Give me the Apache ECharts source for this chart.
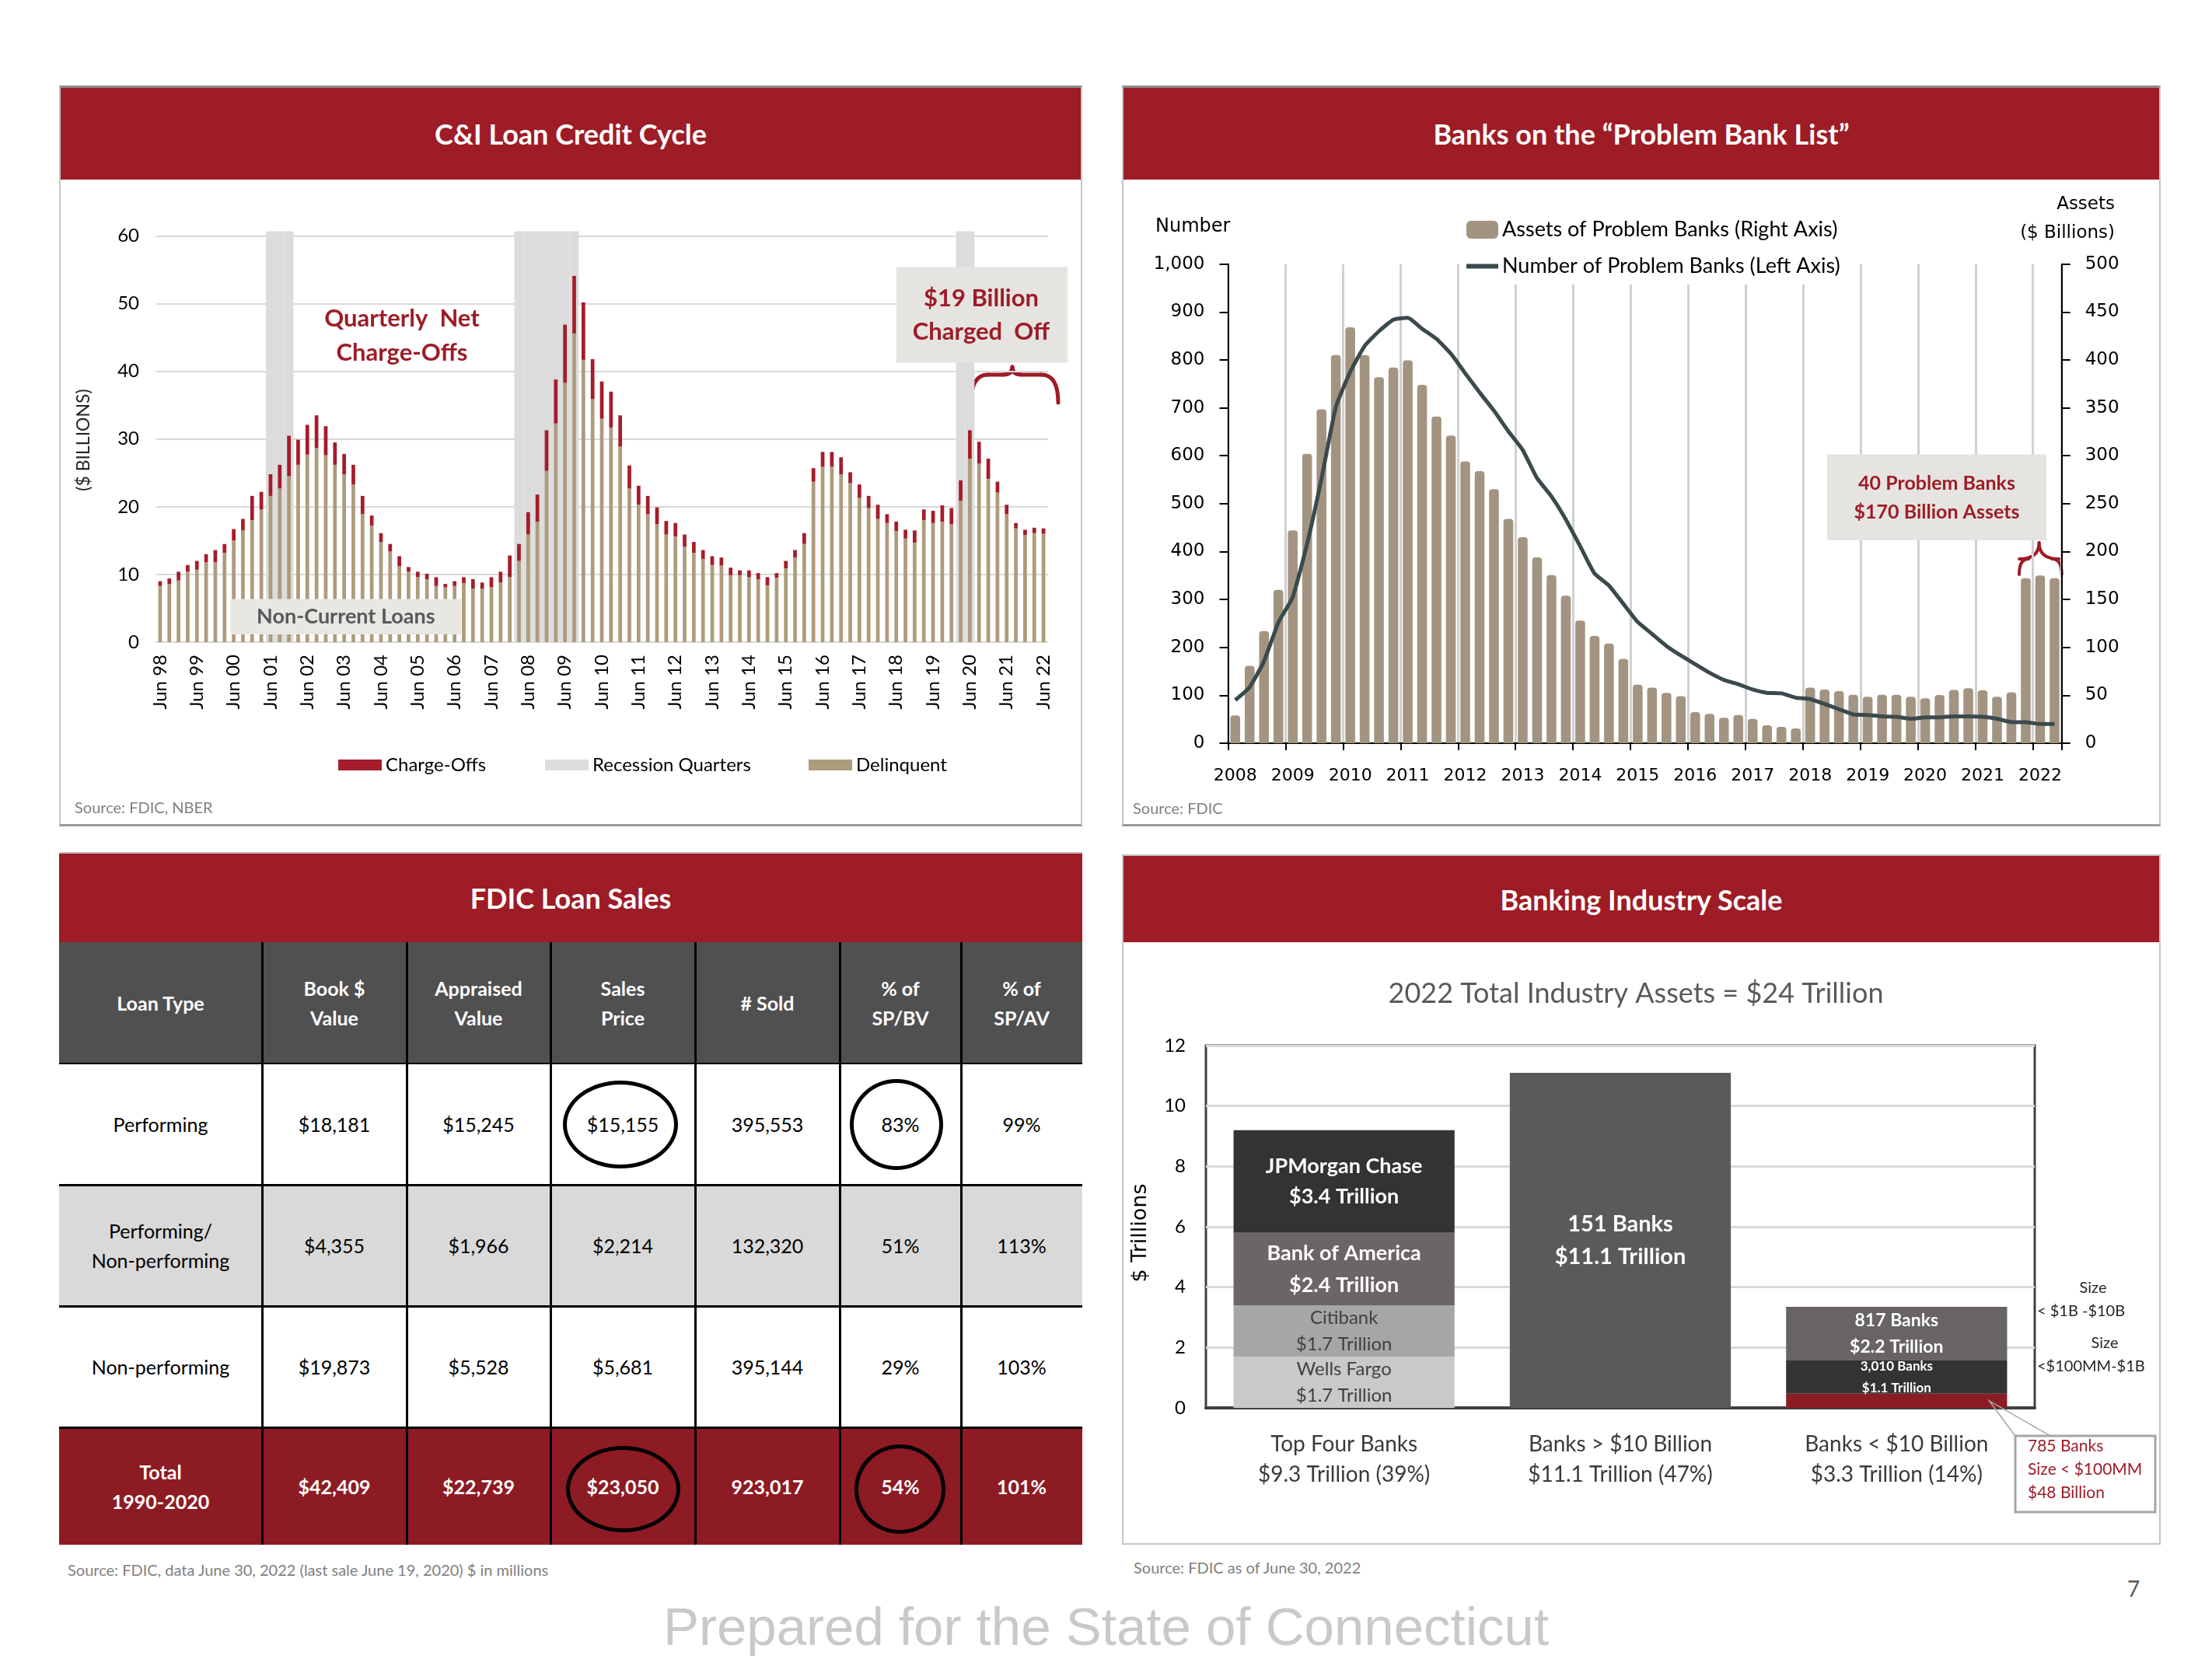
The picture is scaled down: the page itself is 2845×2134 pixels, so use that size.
<!DOCTYPE html>
<html>
<head>
<meta charset="utf-8">
<title>Banking Industry Overview</title>
<script src="https://cdn.jsdelivr.net/npm/echarts@6/dist/echarts.min.js"></script>
<style>
  html, body { margin:0; padding:0; background:#ffffff; }
  body { position:relative; width:2845px; height:2134px; overflow:hidden; font-family: Lato, "Noto Sans", sans-serif; }
  .abs { position:absolute; box-sizing:border-box; }
  .panel { border:2px solid #c4c4c4; }
  .hdr { background:#9d1c26; color:#ffffff; font-weight:700; font-size:36px; display:flex; align-items:center; justify-content:center; white-space:nowrap; }
  .src { color:#7f7f7f; font-size:20px; white-space:nowrap; line-height:24px; }
  .cell { display:flex; align-items:center; justify-content:center; text-align:center; font-size:25px; line-height:38px; white-space:pre-line; }
  .ring { border:5px solid #000000; border-radius:50%; }
</style>
</head>
<body>

<div class="abs panel" style="left:76px;top:110px;width:1316px;height:953px;border-top:3px solid #8c8c8c;border-bottom:3px solid #9a9a9a;"></div>
<div class="abs hdr" style="left:78px;top:113px;width:1312px;height:118px;">C&amp;I Loan Credit Cycle</div>

<div class="abs panel" style="left:1443px;top:110px;width:1336px;height:953px;border-top:3px solid #8c8c8c;border-bottom:3px solid #9a9a9a;"></div>
<div class="abs hdr" style="left:1445px;top:113px;width:1332px;height:118px;">Banks on the “Problem Bank List”</div>

<div class="abs" style="left:76px;top:1096px;width:1316px;height:3px;background:#bdbdbd;"></div>
<div class="abs hdr" style="left:76px;top:1098px;width:1316px;height:114px;">FDIC Loan Sales</div>

<div class="abs panel" style="left:1443px;top:1099px;width:1336px;height:888px;"></div>
<div class="abs hdr" style="left:1445px;top:1101px;width:1332px;height:111px;">Banking Industry Scale</div>

<div id="tbl"></div>

<div id="c1" class="abs" style="left:78px;top:232px;width:1312px;height:828px;"></div>
<div id="c2" class="abs" style="left:1445px;top:232px;width:1332px;height:828px;"></div>
<div id="c3" class="abs" style="left:1445px;top:1212px;width:1332px;height:773px;"></div>

<div class="abs src" style="left:87px;top:2007px;">Source: FDIC, data June 30, 2022 (last sale June 19, 2020) $ in millions</div>
<div class="abs src" style="left:1458px;top:2004px;">Source: FDIC as of June 30, 2022</div>
<div class="abs" style="left:2736px;top:2026px;font-size:28px;color:#595959;line-height:34px;">7</div>
<div class="abs" style="left:0;top:2052px;width:2845px;text-align:center;font-family:'Liberation Sans', Arial, sans-serif;font-size:69px;line-height:82px;color:#c9c9c9;white-space:nowrap;">Prepared for the State of Connecticut</div>

<script>
// ---------------- DATA ----------------
// C&I Loan Credit Cycle ($ billions, quarterly)
const ciQuarters = ['Jun 98','Sep 98','Dec 98','Mar 99','Jun 99','Sep 99','Dec 99','Mar 00','Jun 00','Sep 00','Dec 00','Mar 01',
  'Jun 01','Sep 01','Dec 01','Mar 02','Jun 02','Sep 02','Dec 02','Mar 03','Jun 03','Sep 03','Dec 03','Mar 04',
  'Jun 04','Sep 04','Dec 04','Mar 05','Jun 05','Sep 05','Dec 05','Mar 06','Jun 06','Sep 06','Dec 06','Mar 07',
  'Jun 07','Sep 07','Dec 07','Mar 08','Jun 08','Sep 08','Dec 08','Mar 09','Jun 09','Sep 09','Dec 09','Mar 10',
  'Jun 10','Sep 10','Dec 10','Mar 11','Jun 11','Sep 11','Dec 11','Mar 12','Jun 12','Sep 12','Dec 12','Mar 13',
  'Jun 13','Sep 13','Dec 13','Mar 14','Jun 14','Sep 14','Dec 14','Mar 15','Jun 15','Sep 15','Dec 15','Mar 16',
  'Jun 16','Sep 16','Dec 16','Mar 17','Jun 17','Sep 17','Dec 17','Mar 18','Jun 18','Sep 18','Dec 18','Mar 19',
  'Jun 19','Sep 19','Dec 19','Mar 20','Jun 20','Sep 20','Dec 20','Mar 21','Jun 21','Sep 21','Dec 21','Mar 22','Jun 22'];
const ciDelinquent = [8.3,8.6,9.1,10.4,10.7,11.8,11.8,13.2,15.0,16.5,
  18.0,19.6,21.6,22.7,24.5,26.2,27.7,28.7,27.6,26.2,
  24.8,23.3,18.9,17.2,14.8,13.4,11.2,10.4,9.6,9.3,
  8.3,8.1,8.3,8.7,7.9,7.9,8.1,8.8,9.6,12.0,
  15.9,17.8,25.3,32.3,38.3,45.6,41.7,35.9,33.0,31.7,
  28.9,22.7,20.3,18.9,17.4,15.9,15.6,14.1,13.2,12.3,
  11.4,11.3,9.9,9.9,9.6,9.3,8.4,9.5,10.9,12.5,
  14.5,23.7,25.9,25.9,24.8,23.5,21.3,19.8,18.2,17.6,
  16.4,15.3,14.7,18.0,17.6,17.8,17.4,20.9,27.1,26.4,
  24.1,22.1,18.9,16.8,15.8,16.1,16.0];
const ciChargeOffs = [0.7,0.8,1.3,1.0,1.3,1.2,1.8,1.3,1.7,1.7,
  3.6,2.6,3.2,3.5,6.0,3.7,4.4,4.8,4.3,3.3,
  3.0,2.9,2.7,1.5,1.3,1.1,1.5,0.7,0.8,0.8,
  1.3,0.5,0.7,0.9,1.4,0.9,1.5,1.6,3.2,2.5,
  3.3,4.0,6.0,6.5,8.6,8.5,8.5,5.9,5.5,5.3,
  4.6,3.4,2.8,2.7,2.5,2.0,2.0,1.8,1.6,1.3,
  1.3,1.2,1.1,0.7,1.0,0.9,1.2,0.7,1.1,1.1,
  1.6,2.0,2.2,2.2,2.5,1.6,2.0,1.8,2.1,1.3,
  1.4,1.3,1.8,1.6,1.8,2.4,2.4,3.0,4.2,3.2,
  3.0,1.6,1.4,0.8,0.8,0.8,0.8];
const ciRecessionQuarters = ['Jun 01','Sep 01','Dec 01','Mar 08','Jun 08','Sep 08','Dec 08','Mar 09','Jun 09','Sep 09','Mar 20','Jun 20'];
const ciYTicks = [0, 60, 10]; // min, max, step

// Problem Bank List (quarterly)
const pbQuarters = ['2008 Q1','2008 Q2','2008 Q3','2008 Q4','2009 Q1','2009 Q2','2009 Q3','2009 Q4',
  '2010 Q1','2010 Q2','2010 Q3','2010 Q4','2011 Q1','2011 Q2','2011 Q3','2011 Q4',
  '2012 Q1','2012 Q2','2012 Q3','2012 Q4','2013 Q1','2013 Q2','2013 Q3','2013 Q4',
  '2014 Q1','2014 Q2','2014 Q3','2014 Q4','2015 Q1','2015 Q2','2015 Q3','2015 Q4',
  '2016 Q1','2016 Q2','2016 Q3','2016 Q4','2017 Q1','2017 Q2','2017 Q3','2017 Q4',
  '2018 Q1','2018 Q2','2018 Q3','2018 Q4','2019 Q1','2019 Q2','2019 Q3','2019 Q4',
  '2020 Q1','2020 Q2','2020 Q3','2020 Q4','2021 Q1','2021 Q2','2021 Q3','2021 Q4',
  '2022 Q1','2022 Q2'];
const pbAssets = [29.0,80.7,117,160, 222,302,348.5,405, 434,405,382,392, 399.5,374,341,321,
  294,284,265,234, 215,194,175.5,154, 128,112,104,88, 61,58,52.5,49,
  32.4,30.7,26.6,29.5, 25.3,18.7,17,15.4, 58,56,54.4,50.6, 48.5,50.6,50.6,48.5,
  46.9,50.2,55.6,57.3, 55.2,48.5,53.1,172.2, 175.1,172.2];
const pbNumber = [90,117,171,252, 305,416,552,702, 775,829,860,884, 888,865,844,813,
  772,732,694,651, 612,553,515,467, 411,354,329,291, 253,228,203,183,
  165,147,132,123, 112,105,104,95, 92,82,71,60, 59,56,55,51,
  54,54,56,56, 55,51,44,44, 40,40];

// Banking Industry Scale ($ trillions)
const scaleCategories = ['Top Four Banks', 'Banks > $10 Billion', 'Banks < $10 Billion'];
const scaleCategoryTotals = ['$9.3 Trillion (39%)', '$11.1 Trillion (47%)', '$3.3 Trillion (14%)'];
const topFourBanks = ['Wells Fargo', 'Citibank', 'Bank of America', 'JPMorgan Chase'];
const topFourLabels = ['$1.7 Trillion', '$1.7 Trillion', '$2.4 Trillion', '$3.4 Trillion'];
const topFourAssets = [1.7, 1.7, 2.4, 3.4];
const largeBankGroup = '151 Banks';
const largeBankLabel = '$11.1 Trillion';
const largeBankAssets = 11.1;
const smallBankGroups = ['785 Banks', '3,010 Banks', '817 Banks'];
const smallBankLabels = ['$48 Billion', '$1.1 Trillion', '$2.2 Trillion'];
const smallBankAssets = [0.47, 1.10, 1.78];

// FDIC Loan Sales table ($ millions)
const tblHeaders = ['Loan Type', 'Book $\nValue', 'Appraised\nValue', 'Sales\nPrice', '# Sold', '% of\nSP/BV', '% of\nSP/AV'];
const tblLoanTypes = ['Performing', 'Performing/\nNon-performing', 'Non-performing', 'Total\n1990-2020'];
const tblBookValue = ['$18,181', '$4,355', '$19,873', '$42,409'];
const tblAppraised = ['$15,245', '$1,966', '$5,528', '$22,739'];
const tblSalesPrice = ['$15,155', '$2,214', '$5,681', '$23,050'];
const tblSold = ['395,553', '132,320', '395,144', '923,017'];
const tblPctBV = ['83%', '51%', '29%', '54%'];
const tblPctAV = ['99%', '113%', '103%', '101%'];

// ---------------- TABLE ----------------
(function buildTable() {
  const host = document.getElementById('tbl');
  const cols = [tblLoanTypes, tblBookValue, tblAppraised, tblSalesPrice, tblSold, tblPctBV, tblPctAV];
  const colX = [76, 337, 523, 708, 894, 1080, 1236, 1392];
  const rowY = [1212, 1368, 1524, 1680, 1836, 1987];
  const rowBg = ['#505050', '#ffffff', '#d9d9d9', '#ffffff', '#8d1b24'];
  let html = '';
  for (let r = 0; r < 5; r++) {
    for (let c = 0; c < 7; c++) {
      const txt = r === 0 ? tblHeaders[c] : cols[c][r - 1];
      const light = (r === 0 || r === 4);
      html += '<div class="abs cell" style="left:' + colX[c] + 'px;top:' + rowY[r] + 'px;width:' + (colX[c + 1] - colX[c]) +
        'px;height:' + (rowY[r + 1] - rowY[r]) + 'px;background:' + rowBg[r] + ';color:' + (light ? '#ffffff' : '#000000') +
        ';font-weight:' + (light ? 700 : 400) + ';">' + txt.replace(/&/g, '&amp;') + '</div>';
    }
  }
  for (let c = 1; c < 7; c++) {
    html += '<div class="abs" style="left:' + (colX[c] - 1) + 'px;top:1212px;width:3px;height:775px;background:#000;"></div>';
  }
  for (let r = 1; r < 5; r++) {
    html += '<div class="abs" style="left:76px;top:' + (rowY[r] - 1) + 'px;width:1316px;height:' + (r === 1 ? 2 : 3) + 'px;background:#000;"></div>';
  }
  const rings = [[724, 1390, 148, 113], [1093, 1388, 120, 117], [728, 1860, 147, 111], [1099, 1858, 117, 115]];
  rings.forEach(g => {
    html += '<div class="abs ring" style="left:' + g[0] + 'px;top:' + g[1] + 'px;width:' + g[2] + 'px;height:' + g[3] + 'px;"></div>';
  });
  host.innerHTML = html;
})();

const RED = '#9d1c26';

// curly brace made of curves: ends at (xL,yEnd) and (xR,yEnd), bar at yBar, tip at (xT,yTip)
function brace(xL, xR, xT, yEnd, yBar, yTip, w) {
  const st = { stroke: RED, lineWidth: w, fill: null, lineCap: 'round' };
  const r = Math.abs(yEnd - yBar);
  const r2 = Math.abs(yBar - yTip);
  return {
    type: 'group', z: 100,
    children: [
      { type: 'bezierCurve', shape: { x1: xL, y1: yEnd, cpx1: xL, cpy1: yBar, x2: xL + r * 0.6, y2: yBar }, style: st },
      { type: 'line', shape: { x1: xL + r * 0.6, y1: yBar, x2: xT - r2 * 1.2, y2: yBar }, style: st },
      { type: 'bezierCurve', shape: { x1: xT - r2 * 1.2, y1: yBar, cpx1: xT, cpy1: yBar, x2: xT, y2: yTip }, style: st },
      { type: 'bezierCurve', shape: { x1: xT, y1: yTip, cpx1: xT, cpy1: yBar, x2: xT + r2 * 1.2, y2: yBar }, style: st },
      { type: 'line', shape: { x1: xT + r2 * 1.2, y1: yBar, x2: xR - r * 0.6, y2: yBar }, style: st },
      { type: 'bezierCurve', shape: { x1: xR - r * 0.6, y1: yBar, cpx1: xR, cpy1: yBar, x2: xR, y2: yEnd }, style: st }
    ]
  };
}

// ---------------- CHART 1: C&I Loan Credit Cycle ----------------
const c1 = echarts.init(document.getElementById('c1'), null, { renderer: 'canvas' });
c1.setOption({
  animation: false,
  textStyle: { fontFamily: 'Lato' },
  grid: { left: 122, top: 71.5, width: 1148, height: 522.5, outerBoundsMode: 'none' },
  legend: [
    { data: ['Charge-Offs'], left: 357, top: 740, padding: 0, icon: 'rect', itemWidth: 56, itemHeight: 14, textStyle: { fontSize: 24, color: '#000', fontFamily: 'Lato' } },
    { data: ['Recession Quarters'], left: 623, top: 740, padding: 0, icon: 'rect', itemWidth: 56, itemHeight: 14, textStyle: { fontSize: 24, color: '#000', fontFamily: 'Lato' } },
    { data: ['Delinquent'], left: 962, top: 740, padding: 0, icon: 'rect', itemWidth: 56, itemHeight: 14, textStyle: { fontSize: 24, color: '#000', fontFamily: 'Lato' } }
  ],
  xAxis: [
    { type: 'category', data: ciQuarters, axisLine: { show: false }, axisTick: { show: false },
      axisLabel: { interval: 3, rotate: 90, margin: 16, fontSize: 24, color: '#000', fontFamily: 'Lato' } },
    { type: 'category', data: ciQuarters, show: false }
  ],
  yAxis: { type: 'value', min: ciYTicks[0], max: ciYTicks[1], interval: ciYTicks[2],
    axisLine: { show: false }, axisTick: { show: false },
    axisLabel: { margin: 21, fontSize: 24, color: '#000', fontFamily: 'Lato' },
    splitLine: { lineStyle: { color: '#d9d9d9', width: 2 } } },
  series: [
    { name: 'Recession Quarters', type: 'bar', xAxisIndex: 1, barWidth: '100%', clip: false, silent: true, z: 1,
      data: ciQuarters.map(q => ciRecessionQuarters.includes(q) ? 60.7 : '-'),
      itemStyle: { color: '#dcdcdc' } },
    { name: 'Delinquent', type: 'bar', stack: 'ci', barWidth: '40%', z: 3, data: ciDelinquent, itemStyle: { color: '#ad9c7b' } },
    { name: 'Charge-Offs', type: 'bar', stack: 'ci', barWidth: '40%', z: 3, data: ciChargeOffs, itemStyle: { color: '#a51c2b' } }
  ],
  graphic: [
    { type: 'text', x: 30, y: 334, rotation: Math.PI / 2, z: 100,
      style: { text: '($ BILLIONS)', font: '23px Lato', fill: '#262626', align: 'center', verticalAlign: 'middle' } },
    { type: 'text', z: 100, style: { x: 439, y: 200, text: 'Quarterly  Net\nCharge-Offs', font: 'bold 31px Lato', fill: RED, align: 'center', verticalAlign: 'middle', lineHeight: 44 } },
    { type: 'rect', z: 100, shape: { x: 1075, y: 111.5, width: 220, height: 123 }, style: { fill: '#e6e4e1' } },
    { type: 'text', z: 101, style: { x: 1184, y: 173.5, text: '$19 Billion\nCharged  Off', font: 'bold 31px Lato', fill: RED, align: 'center', verticalAlign: 'middle', lineHeight: 43 } },
    brace(1171, 1283, 1224, 286, 250, 240, 5),
    { type: 'rect', z: 100, shape: { x: 218.5, y: 538.5, width: 296.5, height: 45.5 }, style: { fill: '#e9e7e4' } },
    { type: 'text', z: 101, style: { x: 366.8, y: 561, text: 'Non-Current Loans', font: 'bold 27px Lato', fill: '#595959', align: 'center', verticalAlign: 'middle' } },
    { type: 'text', z: 100, style: { x: 18, y: 808, text: 'Source: FDIC, NBER', font: '20px Lato', fill: '#7f7f7f', verticalAlign: 'middle' } }
  ]
});

// ---------------- CHART 2: Problem Bank List ----------------
const c2 = echarts.init(document.getElementById('c2'), null, { renderer: 'canvas' });
c2.setOption({
  animation: false,
  textStyle: { fontFamily: 'DejaVu Sans' },
  grid: { left: 134.5, top: 107.7, width: 1072.2, height: 616.3, outerBoundsMode: 'none' },
  legend: { orient: 'vertical', left: 434, top: 46, padding: [4, 14, 10, 4], backgroundColor: '#ffffff',
    itemWidth: 41, itemHeight: 23, itemGap: 20, z: 10,
    data: [
      { name: 'Assets of Problem Banks (Right Axis)', icon: 'roundRect' },
      { name: 'Number of Problem Banks (Left Axis)', itemStyle: { opacity: 0 }, lineStyle: { width: 6, color: '#3a4a4d' } }
    ],
    textStyle: { fontSize: 27, color: '#000', fontFamily: 'Lato' } },
  xAxis: { type: 'category', data: pbQuarters,
    axisLine: { lineStyle: { color: '#000', width: 2 } },
    axisTick: { show: true, interval: 3, length: 9, lineStyle: { color: '#000', width: 2 } },
    splitLine: { show: true, interval: 3, lineStyle: { color: '#d0d0d0', width: 3 } },
    axisLabel: { interval: 3, formatter: v => v.slice(0, 4), margin: 31, fontSize: 22, color: '#000', fontFamily: 'DejaVu Sans' } },
  yAxis: [
    { type: 'value', min: 0, max: 1000, interval: 100, position: 'left',
      axisLine: { show: true, lineStyle: { color: '#000', width: 2 } },
      axisTick: { show: true, length: 11, lineStyle: { color: '#000', width: 2 } },
      axisLabel: { margin: 30, fontSize: 23, color: '#000', fontFamily: 'DejaVu Sans', formatter: v => v.toLocaleString('en-US') },
      splitLine: { show: false } },
    { type: 'value', min: 0, max: 500, interval: 50, position: 'right',
      axisLine: { show: true, lineStyle: { color: '#000', width: 2 } },
      axisTick: { show: true, length: 11, lineStyle: { color: '#000', width: 2 } },
      axisLabel: { margin: 30, fontSize: 23, color: '#000', fontFamily: 'DejaVu Sans' },
      splitLine: { show: false } }
  ],
  series: [
    { name: 'Assets of Problem Banks (Right Axis)', type: 'bar', yAxisIndex: 1, barWidth: '68%', data: pbAssets,
      itemStyle: { color: '#a39481', borderRadius: [4, 4, 0, 0] } },
    { name: 'Number of Problem Banks (Left Axis)', type: 'line', yAxisIndex: 0, data: pbNumber, symbol: 'none', smooth: 0.15, z: 5,
      lineStyle: { color: '#3a4a4d', width: 5 }, itemStyle: { color: '#3a4a4d' } }
  ],
  graphic: [
    { type: 'text', z: 100, style: { x: 41, y: 60, text: 'Number', font: '24px DejaVu Sans', fill: '#000', verticalAlign: 'middle' } },
    { type: 'text', z: 100, style: { x: 1275, y: 31, text: 'Assets', font: '23px DejaVu Sans', fill: '#000', align: 'right', verticalAlign: 'middle' } },
    { type: 'text', z: 100, style: { x: 1275, y: 68, text: '($ Billions)', font: '23px DejaVu Sans', fill: '#000', align: 'right', verticalAlign: 'middle' } },
    { type: 'rect', z: 100, shape: { x: 905, y: 352.6, width: 282, height: 110.4 }, style: { fill: '#e6e4e1' } },
    { type: 'text', z: 101, style: { x: 1046, y: 408, text: '40 Problem Banks\n$170 Billion Assets', font: 'bold 25px Lato', fill: RED, align: 'center', verticalAlign: 'middle', lineHeight: 37 } },
    brace(1152, 1206.7, 1177.6, 507, 487, 466, 4),
    { type: 'text', z: 100, style: { x: 12, y: 809, text: 'Source: FDIC', font: '20px Lato', fill: '#7f7f7f', verticalAlign: 'middle' } }
  ]
});

// ---------------- CHART 3: Banking Industry Scale ----------------
const c3 = echarts.init(document.getElementById('c3'), null, { renderer: 'canvas' });
const topFourColors = ['#c9c9c9', '#a6a6a6', '#6b6565', '#333333'];
const topFourLabelStyle = [
  { color: '#404040', fontSize: 24, fontWeight: 'normal', lineHeight: 34 },
  { color: '#404040', fontSize: 24, fontWeight: 'normal', lineHeight: 34 },
  { color: '#ffffff', fontSize: 27, fontWeight: 'bold', lineHeight: 41 },
  { color: '#ffffff', fontSize: 27, fontWeight: 'bold', lineHeight: 39 }
];
const smallColors = ['#8b1c24', '#333333', '#686464'];
const smallLabelStyle = [
  { show: false },
  { show: true, color: '#ffffff', fontSize: 17, fontWeight: 'bold', lineHeight: 28 },
  { show: true, color: '#ffffff', fontSize: 23, fontWeight: 'bold', lineHeight: 34 }
];
const scaleSeries = [];
topFourBanks.forEach((b, i) => {
  scaleSeries.push({ name: b, type: 'bar', stack: 'scale', barWidth: '80%',
    data: [topFourAssets[i], '-', '-'], itemStyle: { color: topFourColors[i] },
    label: Object.assign({ show: true, position: 'inside', fontFamily: 'Lato', formatter: b + '\n' + topFourLabels[i] }, topFourLabelStyle[i]) });
});
scaleSeries.push({ name: largeBankGroup, type: 'bar', stack: 'scale', barWidth: '80%',
  data: ['-', largeBankAssets, '-'], itemStyle: { color: '#5a5a5a' },
  label: { show: true, position: 'inside', fontFamily: 'Lato', color: '#ffffff', fontSize: 29, fontWeight: 'bold', lineHeight: 42,
    formatter: largeBankGroup + '\n' + largeBankLabel } });
smallBankGroups.forEach((g, i) => {
  scaleSeries.push({ name: g, type: 'bar', stack: 'scale', barWidth: '80%',
    data: ['-', '-', smallBankAssets[i]], itemStyle: { color: smallColors[i] },
    label: Object.assign({ position: 'inside', fontFamily: 'Lato', formatter: g + '\n' + smallBankLabels[i] }, smallLabelStyle[i]) });
});
c3.setOption({
  animation: false,
  textStyle: { fontFamily: 'Lato' },
  grid: { left: 106, top: 133, width: 1066, height: 466, show: true, borderColor: '#404040', borderWidth: 3, backgroundColor: 'transparent', outerBoundsMode: 'none' },
  xAxis: { type: 'category', data: scaleCategories.map((c, i) => c + '\n' + scaleCategoryTotals[i]),
    axisLine: { lineStyle: { color: '#404040', width: 4 } }, axisTick: { show: false },
    axisLabel: { margin: 27, fontSize: 28, lineHeight: 39, color: '#3a3a3a', fontFamily: 'Lato' } },
  yAxis: { type: 'value', min: 0, max: 12, interval: 2, axisLine: { show: false }, axisTick: { show: false },
    axisLabel: { margin: 26, fontSize: 24, color: '#000', fontFamily: 'Lato' },
    splitLine: { lineStyle: { color: '#d9d9d9', width: 3 } } },
  series: scaleSeries,
  graphic: [
    { type: 'text', z: 100, style: { x: 659, y: 66, text: '2022 Total Industry Assets = $24 Trillion', font: '36px Lato', fill: '#595959', align: 'center', verticalAlign: 'middle' } },
    { type: 'text', x: 22, y: 374, rotation: Math.PI / 2, z: 100, style: { text: '$ Trillions', font: '27px DejaVu Sans', fill: '#000', align: 'center', verticalAlign: 'middle' } },
    { type: 'text', z: 100, style: { x: 1247, y: 445, text: 'Size', font: '20px Lato', fill: '#262626', align: 'center', verticalAlign: 'middle' } },
    { type: 'text', z: 100, style: { x: 1175, y: 475, text: '< $1B -$10B', font: '20px Lato', fill: '#262626', verticalAlign: 'middle' } },
    { type: 'text', z: 100, style: { x: 1262, y: 516, text: 'Size', font: '20px Lato', fill: '#262626', align: 'center', verticalAlign: 'middle' } },
    { type: 'text', z: 100, style: { x: 1175, y: 546, text: '<$100MM-$1B', font: '20px Lato', fill: '#262626', verticalAlign: 'middle' } },
    { type: 'polyline', z: 100, shape: { points: [[1146.6, 634.8], [1113.4, 589.8], [1192, 634.8]] }, style: { stroke: '#a6a6a6', lineWidth: 1.5, fill: null } },
    { type: 'rect', z: 101, shape: { x: 1147, y: 635, width: 180, height: 98 }, style: { fill: '#ffffff', stroke: '#a6a6a6', lineWidth: 3 } },
    { type: 'text', z: 102, style: { x: 1163, y: 678, text: smallBankGroups[0] + '\nSize < $100MM\n' + smallBankLabels[0], font: '21px Lato', fill: RED, verticalAlign: 'middle', lineHeight: 30 } }
  ]
});
</script>
</body>
</html>
